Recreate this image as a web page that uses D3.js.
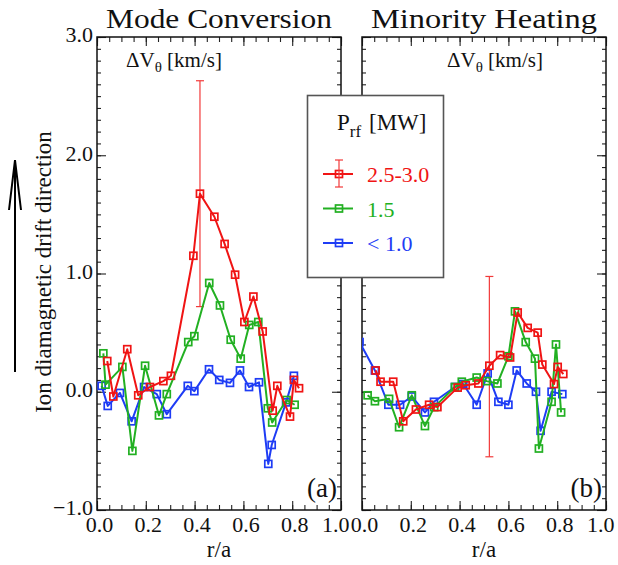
<!DOCTYPE html>
<html>
<head>
<meta charset="utf-8">
<script src="https://cdn.jsdelivr.net/npm/d3@7"></script>
<style>
  html, body { margin: 0; padding: 0; background: #fff; }
  svg { display: block; }
  text { font-family: "Liberation Serif", "Times New Roman", serif; fill: #111; }
</style>
</head>
<body>
<svg id="chart" width="618" height="565"></svg>
<script>
// ---------------- data ----------------
const xTickValues = [0.0, 0.2, 0.4, 0.6, 0.8, 1.0];
const yTickValues = [-1.0, 0.0, 1.0, 2.0, 3.0];
const panelTitles = ["Mode Conversion", "Minority Heating"];
const panelTags = ["(a)", "(b)"];
const seriesNames = ["2.5-3.0", "1.5", "< 1.0"];
const seriesColors = ["#f01414", "#22b022", "#1e3cf5"];

// Mode Conversion (a)  [r/a, dV]
const mcRed = [[0.042,0.26],[0.067,-0.04],[0.124,0.36],[0.169,-0.03],[0.217,0.04],[0.272,0.09],[0.303,0.135],
  [0.395,1.15],[0.422,1.675],[0.481,1.48],[0.523,1.25],[0.566,0.99],[0.604,0.59],[0.641,0.805],[0.679,0.51],
  [0.720,-0.16],[0.739,0.05],[0.791,-0.21],[0.807,0.10],[0.828,0.03]];
const mcGreen = [[0.026,0.325],[0.035,0.06],[0.104,0.21],[0.145,-0.50],[0.197,0.22],[0.254,-0.20],[0.286,-0.02],
  [0.374,0.42],[0.399,0.47],[0.460,0.92],[0.504,0.73],[0.548,0.44],[0.589,0.28],[0.624,0.565],[0.661,0.59],
  [0.700,-0.14],[0.718,-0.26],[0.777,-0.07],[0.810,-0.11]];
const mcBlue = [[0.019,0.05],[0.044,-0.12],[0.094,-0.01],[0.142,-0.25],[0.193,0.04],[0.245,-0.02],[0.286,-0.19],
  [0.372,0.05],[0.399,0.005],[0.459,0.19],[0.501,0.10],[0.545,0.075],[0.586,0.18],[0.623,0.04],[0.664,0.08],
  [0.702,-0.61],[0.716,-0.45],[0.775,-0.09],[0.807,0.135]];
const mcRedErr = [0.422, 0.72, 2.63]; // x, low, high

// Minority Heating (b)
const mhRed = [[0.056,0.18],[0.076,0.085],[0.128,0.085],[0.169,-0.25],[0.221,-0.15],[0.275,-0.11],[0.309,-0.13],
  [0.392,0.035],[0.425,0.055],[0.477,0.07],[0.522,0.22],[0.566,0.31],[0.607,0.29],[0.638,0.67],[0.679,0.54],
  [0.720,0.50],[0.739,0.23],[0.787,0.065],[0.802,0.21],[0.825,0.15]];
const mhGreen = [[0.023,-0.03],[0.053,-0.08],[0.111,-0.06],[0.152,-0.30],[0.204,-0.03],[0.258,-0.29],[0.296,-0.13],
  [0.381,0.04],[0.409,0.085],[0.470,0.12],[0.511,0.09],[0.555,0.07],[0.600,0.30],[0.627,0.68],[0.671,0.42],
  [0.709,0.28],[0.725,-0.48],[0.777,-0.085],[0.795,0.40],[0.816,-0.175]];
const mhBlue = [[-0.01,0.42],[0.053,0.18],[0.108,-0.11],[0.156,-0.11],[0.204,-0.04],[0.258,-0.175],[0.295,-0.085],
  [0.381,0.04],[0.415,0.065],[0.470,-0.11],[0.515,0.155],[0.559,-0.085],[0.600,-0.11],[0.634,0.18],[0.675,0.07],
  [0.713,0.0],[0.732,-0.33],[0.777,0.0],[0.821,-0.02]];
const mhRedErr = [0.522, -0.55, 0.975];

const panels = [
  { series: [mcBlue, mcGreen, mcRed], order: [2,1,0], err: mcRedErr, x0: 97, x1: 341, labels: true },
  { series: [mhBlue, mhGreen, mhRed], order: [2,1,0], err: mhRedErr, x0: 362, x1: 606, labels: false }
];

// ---------------- drawing ----------------
const svg = d3.select("#chart");
const yTop = 37, yBot = 510;
const y = d3.scaleLinear().domain([-1, 3]).range([yBot, yTop]);
const xMinor = d3.range(0, 1.0001, 0.05);
const yMinor = d3.range(-1, 3.0001, 0.1);

panels.forEach((p, i) => {
  const x = d3.scaleLinear().domain([0, 1]).range([p.x0, p.x1]);
  const g = svg.append("g");

  const clipId = "clip" + i;
  svg.append("clipPath").attr("id", clipId).append("rect")
    .attr("x", p.x0).attr("y", yTop).attr("width", p.x1 - p.x0).attr("height", yBot - yTop);

  // ticks (inward)
  const tickGroup = (axis, tr) => {
    const a = g.append("g").attr("transform", tr).call(axis);
    a.select(".domain").remove();
    a.selectAll("line").attr("stroke", "#222").attr("stroke-width", 1.1);
    return a;
  };
  tickGroup(d3.axisBottom(x).tickValues(xMinor).tickSize(-5).tickFormat(""), `translate(0,${yBot})`);
  tickGroup(d3.axisTop(x).tickValues(xMinor).tickSize(-5).tickFormat(""), `translate(0,${yTop})`);
  tickGroup(d3.axisTop(x).tickValues(xTickValues).tickSize(-9).tickFormat(""), `translate(0,${yTop})`);
  const xb = tickGroup(d3.axisBottom(x).tickValues(xTickValues).tickSize(-9).tickPadding(14)
      .tickFormat(d3.format(".1f")), `translate(0,${yBot})`);
  xb.selectAll("text").attr("font-size", 22).attr("fill", "#111")
    .attr("y", 22).attr("dy", 0).attr("x", 2)
    .each(function(d) {
      if (d === 1.0) d3.select(this).attr("text-anchor", "end").attr("x", 8);
    });

  tickGroup(d3.axisLeft(y).tickValues(yMinor).tickSize(-4).tickFormat(""), `translate(${p.x0},0)`);
  tickGroup(d3.axisRight(y).tickValues(yMinor).tickSize(-4).tickFormat(""), `translate(${p.x1},0)`);
  tickGroup(d3.axisRight(y).tickValues(yTickValues).tickSize(-9).tickFormat(""), `translate(${p.x1},0)`);
  const yl = tickGroup(d3.axisLeft(y).tickValues(yTickValues).tickSize(-9).tickPadding(14)
      .tickFormat(p.labels ? (d => d < 0 ? "\u2212" + d3.format(".1f")(-d) : d3.format(".1f")(d)) : ""),
      `translate(${p.x0},0)`);
  yl.selectAll("text").attr("font-size", 22).attr("fill", "#111").attr("x", -4).attr("dy", "0.22em");

  // frame
  g.append("rect").attr("x", p.x0).attr("y", yTop).attr("width", p.x1 - p.x0).attr("height", yBot - yTop)
    .attr("fill", "none").attr("stroke", "#111").attr("stroke-width", 1.5);

  // data
  const dg = g.append("g").attr("clip-path", `url(#${clipId})`);
  const line = d3.line().x(d => x(d[0])).y(d => y(d[1]));

  // error bar (red series)
  const eg = dg.append("g").attr("stroke", "#f23a3a").attr("stroke-width", 1.2);
  eg.append("line").attr("x1", x(p.err[0])).attr("x2", x(p.err[0])).attr("y1", y(p.err[1])).attr("y2", y(p.err[2]));
  [p.err[1], p.err[2]].forEach(v => eg.append("line")
    .attr("x1", x(p.err[0]) - 4).attr("x2", x(p.err[0]) + 4).attr("y1", y(v)).attr("y2", y(v)));

  p.series.forEach((s, k) => {
    const color = seriesColors[p.order[k]];
    dg.append("path").datum(s).attr("d", line).attr("fill", "none")
      .attr("stroke", color).attr("stroke-width", 2).attr("stroke-linejoin", "round");
    dg.selectAll(null).data(s).enter().append("rect")
      .attr("x", d => x(d[0]) - 3.5).attr("y", d => y(d[1]) - 3.5)
      .attr("width", 7).attr("height", 7)
      .attr("fill", "none").attr("stroke", color).attr("stroke-width", 1.7);
  });

  // texts
  const cx = (p.x0 + p.x1) / 2;
  g.append("text").attr("x", cx).attr("y", 28).attr("text-anchor", "middle")
    .attr("font-size", 28).attr("textLength", 226).attr("lengthAdjust", "spacingAndGlyphs")
    .text(panelTitles[i]);
  g.append("text").attr("x", cx).attr("y", 557).attr("text-anchor", "middle")
    .attr("font-size", 23).text("r/a");
  g.append("text").attr("x", p.x1 - 4).attr("y", 497).attr("text-anchor", "end")
    .attr("font-size", 27).text(panelTags[i]);

  const dv = g.append("text").attr("x", p.x0 + (i === 0 ? 29 : 85)).attr("y", 67).attr("font-size", 21).attr("fill", "#222");
  dv.append("tspan").text("\u0394V");
  dv.append("tspan").attr("font-size", 15).attr("dy", 5).text("\u03B8");
  dv.append("tspan").attr("dy", -5).text(" [km/s]");
});

// y-axis label + arrow
svg.append("text").attr("transform", "translate(51,272) rotate(-90)")
  .attr("text-anchor", "middle").attr("font-size", 23).text("Ion diamagnetic drift direction");
svg.append("line").attr("x1", 15).attr("x2", 15).attr("y1", 372).attr("y2", 161)
  .attr("stroke", "#000").attr("stroke-width", 2);
svg.append("polyline").attr("points", "9,210 15,160 21,210")
  .attr("fill", "none").attr("stroke", "#000").attr("stroke-width", 2);

// legend
const lg = svg.append("g");
lg.append("rect").attr("x", 307.5).attr("y", 95.5).attr("width", 136).attr("height", 182)
  .attr("fill", "#fff").attr("stroke", "#555").attr("stroke-width", 1.6);
const lt = lg.append("text").attr("x", 337).attr("y", 130).attr("font-size", 23);
lt.append("tspan").text("P");
lt.append("tspan").attr("font-size", 17).attr("dy", 7).text("rf");
lt.append("tspan").attr("x", 369).attr("dy", -7).text("[MW]");

const legendY = d3.scalePoint().domain(seriesNames).range([174, 243]);
seriesNames.forEach((name, k) => {
  const yy = legendY(name);
  const c = seriesColors[k];
  lg.append("line").attr("x1", 323).attr("x2", 353).attr("y1", yy).attr("y2", yy)
    .attr("stroke", c).attr("stroke-width", 2);
  lg.append("rect").attr("x", 339 - 3.5).attr("y", yy - 3.5).attr("width", 7).attr("height", 7)
    .attr("fill", "none").attr("stroke", c).attr("stroke-width", 1.7);
  if (k === 0) {
    const e = lg.append("g").attr("stroke", "#f23a3a").attr("stroke-width", 1.2);
    e.append("line").attr("x1", 339).attr("x2", 339).attr("y1", yy - 14).attr("y2", yy + 13);
    e.append("line").attr("x1", 335).attr("x2", 343).attr("y1", yy - 14).attr("y2", yy - 14);
    e.append("line").attr("x1", 335).attr("x2", 343).attr("y1", yy + 13).attr("y2", yy + 13);
  }
  lg.append("text").attr("x", 367).attr("y", yy + 8).attr("font-size", 22)
    .style("fill", c).text(name);
});
</script>
</body>
</html>
